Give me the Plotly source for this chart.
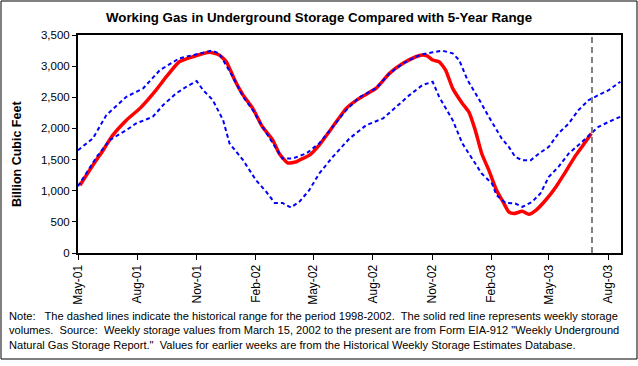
import plotly.graph_objects as go

# ---- data ----
storage_dates = ["2001-05-04", "2001-05-24", "2001-06-09", "2001-06-24", "2001-07-15", "2001-08-05",
                 "2001-08-30", "2001-09-15", "2001-10-05", "2001-10-26", "2001-11-21", "2001-12-06",
                 "2001-12-17", "2001-12-30", "2002-01-12", "2002-01-27", "2002-02-11", "2002-02-27",
                 "2002-03-09", "2002-03-22", "2002-04-04", "2002-04-09", "2002-04-25", "2002-05-10",
                 "2002-05-31", "2002-06-21", "2002-07-11", "2002-08-06", "2002-08-27", "2002-09-17",
                 "2002-10-07", "2002-10-17", "2002-10-25", "2002-11-02", "2002-11-12", "2002-11-22",
                 "2002-12-03", "2002-12-18", "2002-12-28", "2003-01-07", "2003-01-17", "2003-01-28",
                 "2003-02-09", "2003-02-20", "2003-02-28", "2003-03-08", "2003-03-21", "2003-03-31",
                 "2003-04-11", "2003-04-26", "2003-05-12", "2003-05-27", "2003-06-12", "2003-06-27",
                 "2003-07-06"]
storage_values = [1088, 1410, 1651, 1892, 2133, 2322,
                  2616, 2830, 3071, 3151, 3222, 3178,
                  3071, 2777, 2535, 2322, 2026, 1812,
                  1598, 1447, 1463, 1490, 1571, 1732,
                  2026, 2322, 2482, 2643, 2884, 3045,
                  3151, 3178, 3162, 3098, 3071, 2937,
                  2643, 2402, 2267, 1973, 1598, 1330,
                  1008, 804, 659, 633, 670, 622,
                  686, 847, 1061, 1302, 1571, 1785,
                  1920]

upper_dates = ["2001-05-01", "2001-05-24", "2001-06-14", "2001-07-15", "2001-08-10", "2001-09-05",
               "2001-10-05", "2001-11-01", "2001-11-24", "2001-12-06", "2001-12-27", "2002-01-12",
               "2002-01-27", "2002-02-11", "2002-02-27", "2002-03-14", "2002-03-30", "2002-04-20",
               "2002-05-10", "2002-05-31", "2002-06-21", "2002-07-11", "2002-08-06", "2002-08-27",
               "2002-09-17", "2002-10-07", "2002-10-17", "2002-11-02", "2002-11-17", "2002-12-03",
               "2002-12-13", "2002-12-26", "2003-01-03", "2003-01-15", "2003-01-28", "2003-02-06",
               "2003-02-17", "2003-02-28", "2003-03-10", "2003-03-21", "2003-04-03", "2003-04-16",
               "2003-05-01", "2003-05-16", "2003-06-01", "2003-06-16", "2003-07-02", "2003-07-17",
               "2003-08-02", "2003-08-20"]
upper_values = [1651, 1839, 2214, 2508, 2643, 2937,
                3125, 3190, 3248, 3205, 2830, 2508,
                2294, 2026, 1759, 1518, 1518, 1598,
                1759, 2026, 2294, 2498, 2643, 2884,
                3045, 3151, 3190, 3222, 3248, 3205,
                3098, 2777, 2643, 2428, 2187, 2026,
                1839, 1704, 1543, 1490, 1490, 1598,
                1704, 1920, 2080, 2294, 2455, 2535,
                2616, 2749]

lower_dates = ["2001-05-01", "2001-05-30", "2001-06-19", "2001-07-15", "2001-07-30", "2001-08-25",
               "2001-09-10", "2001-09-30", "2001-10-16", "2001-11-01", "2001-11-11", "2001-11-26",
               "2001-12-12", "2001-12-22", "2002-01-12", "2002-02-01", "2002-02-17", "2002-03-02",
               "2002-03-14", "2002-03-27", "2002-04-09", "2002-04-24", "2002-05-10", "2002-05-31",
               "2002-06-26", "2002-07-22", "2002-08-17", "2002-09-06", "2002-09-27", "2002-10-17",
               "2002-11-02", "2002-11-12", "2002-12-03", "2002-12-18", "2003-01-03", "2003-01-17",
               "2003-02-02", "2003-02-09", "2003-02-23", "2003-03-10", "2003-03-21", "2003-04-05",
               "2003-04-18", "2003-05-01", "2003-05-16", "2003-06-01", "2003-06-16", "2003-07-02",
               "2003-07-17", "2003-08-02", "2003-08-20"]
lower_values = [1072, 1543, 1812, 1973, 2080, 2187,
                2375, 2562, 2669, 2760, 2616, 2455,
                2133, 1759, 1490, 1169, 981, 804,
                804, 730, 820, 1000, 1276, 1543,
                1839, 2053, 2160, 2347, 2535, 2696,
                2749, 2508, 2133, 1759, 1490, 1276,
                1116, 928, 804, 794, 740, 820,
                955, 1222, 1383, 1598, 1732, 1892,
                2026, 2106, 2187]

current_week = "2003-07-07"
x_range = ["2001-05-01", "2003-08-21"]
y_ticks = [0, 500, 1000, 1500, 2000, 2500, 3000, 3500]

title_text = "Working Gas in Underground Storage Compared with 5-Year Range"
y_title = "Billion Cubic Feet"
note_text = ("Note:   The dashed lines indicate the historical range for the period 1998-2002.  "
             "The solid red line represents weekly storage<br>volumes.  Source:  Weekly storage values "
             "from March 15, 2002 to the present are from Form EIA-912 \"Weekly Underground<br>"
             "Natural Gas Storage Report.\"  Values for earlier weeks are from the Historical Weekly "
             "Storage Estimates Database.")

# ---- layout geometry (pixels) ----
W, H = 638, 366
L, R, T, B = 78, 17, 35, 113
PW, PH = W - L - R, H - T - B


def px(x):
    return (x - L) / PW


def py(y):
    return (H - B - y) / PH


FONT = "Liberation Sans, Arial, sans-serif"

fig = go.Figure()
fig.add_trace(go.Scatter(x=storage_dates, y=storage_values, mode="lines",
                         line=dict(color="#FF0000", width=3.5, shape="spline", smoothing=0.5),
                         hoverinfo="skip"))
fig.add_trace(go.Scatter(x=upper_dates, y=upper_values, mode="lines",
                         line=dict(color="#0000FF", width=2, dash="4px,3px"), hoverinfo="skip"))
fig.add_trace(go.Scatter(x=lower_dates, y=lower_values, mode="lines",
                         line=dict(color="#0000FF", width=2, dash="4px,3px"), hoverinfo="skip"))

fig.add_shape(type="line", xref="x", yref="paper", x0=current_week, x1=current_week, y0=0, y1=1,
              line=dict(color="#808080", width=2, dash="6px,4px"))
# outer chart border
fig.add_shape(type="rect", xref="paper", yref="paper", x0=px(1), x1=px(637), y0=py(359), y1=py(1),
              line=dict(color="black", width=1), fillcolor="rgba(0,0,0,0)", layer="below")

fig.update_layout(
    width=W, height=H,
    margin=dict(l=L, r=R, t=T, b=B),
    paper_bgcolor="white", plot_bgcolor="white",
    showlegend=False,
    font=dict(family=FONT, size=11, color="black"),
    title=dict(text="<b>" + title_text + "</b>", x=0.5, xanchor="center",
               y=1 - 17 / H, yanchor="middle", yref="container",
               font=dict(family=FONT, size=13.3, color="black")),
    xaxis=dict(type="date", range=x_range, tick0="2001-05-01", dtick="M3", tickformat="%b-%y",
               tickangle=-90, ticks="outside", ticklen=5, tickwidth=1, tickcolor="black",
               showline=True, linewidth=2, linecolor="black", mirror=True, showgrid=False,
               zeroline=False, tickfont=dict(family=FONT, size=12)),
    yaxis=dict(range=[0, 3500], tickvals=y_ticks, tickformat=",d", ticks="outside", ticklen=4,
               tickwidth=1, tickcolor="black", showline=True, linewidth=2, linecolor="black",
               mirror=True, showgrid=False, zeroline=False, tickfont=dict(family=FONT, size=11.5)),
    annotations=[
        dict(text="<b>" + y_title + "</b>", xref="paper", yref="paper", x=px(17), y=py(154),
             textangle=-90, showarrow=False, xanchor="center", yanchor="middle",
             font=dict(family=FONT, size=12.5)),
        dict(text=note_text, xref="paper", yref="paper", x=px(7), y=py(308), xanchor="left",
             yanchor="top", align="left", showarrow=False, font=dict(family=FONT, size=11.1)),
    ],
)

fig.write_html("out.html", config={"displayModeBar": False},
               post_script="document.body.style.margin='0';")
